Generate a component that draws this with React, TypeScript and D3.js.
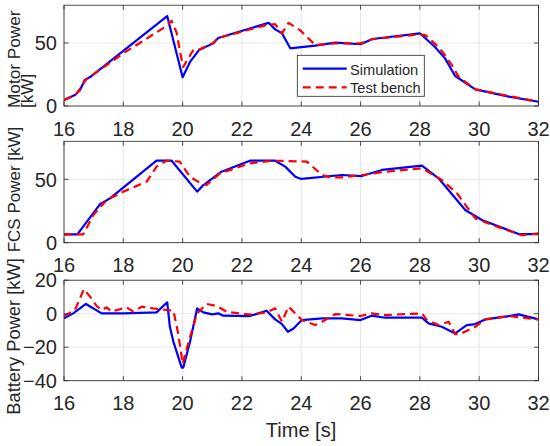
import React from "react";
import * as d3 from "d3";

// ---------- data ----------
const xTicks = [16, 18, 20, 22, 24, 26, 28, 30, 32];
const yTicksPower = [0, 50];
const yTicksBattery = [-40, -20, 0, 20];
const legendLabels = ["Simulation", "Test bench"];

const motorSimT = [16, 16.37, 16.54, 16.7, 16.88, 19.48, 20.0, 20.25, 20.55, 21.03, 21.2, 22.9, 23.12, 23.35, 23.63, 24.47, 25.15, 26.0, 26.4, 28.0, 28.5, 28.85, 29.19, 29.87, 31.0, 32.0];
const motorSimV = [4.8, 8.7, 12.7, 20.6, 23, 71.4, 22.8, 35, 44.4, 49.7, 54, 66, 60.8, 57.7, 45.8, 47.9, 50.3, 49, 53.2, 57.7, 47, 37.8, 23.8, 13.2, 7.4, 3.4];

const motorTestT = [16, 16.4, 16.74, 18.0, 19.46, 19.63, 19.8, 19.92, 20.02, 20.36, 20.58, 21.03, 21.2, 22.83, 23.12, 23.35, 23.57, 23.97, 24.47, 25.15, 26.0, 26.4, 28.0, 28.18, 28.5, 28.8, 29.08, 29.3, 29.87, 31.0, 32.0];
const motorTestV = [4.8, 9, 21, 41.8, 63.5, 67.7, 58, 42, 31, 44.4, 45, 50, 54, 64.3, 65, 57.7, 66, 60, 48.4, 49.7, 49.7, 53, 56.9, 56.3, 49.7, 41.8, 32.5, 23.3, 13.2, 7.9, 3.4];

const fcsSimT = [16, 16.45, 17.21, 17.55, 19.12, 19.63, 20.49, 20.7, 21.31, 22.27, 23.12, 23.46, 23.8, 24.0, 25.37, 26.04, 26.72, 28.07, 28.63, 29.53, 30.09, 31.33, 32];
const fcsSimV = [6.6, 6.6, 30.3, 35, 64.7, 64.7, 40.3, 45.5, 56, 64.7, 64.7, 60, 52, 50.3, 53.4, 52.6, 57.4, 60.8, 50.8, 25.8, 17.9, 6.8, 6.8];

const fcsTestT = [16, 16.65, 16.99, 17.44, 18.0, 18.79, 19.12, 19.46, 19.9, 20.25, 20.53, 20.8, 21.26, 22.27, 23.05, 24.19, 24.7, 24.97, 25.37, 26.04, 26.83, 28.07, 28.74, 29.25, 29.87, 30.43, 31.44, 32];
const fcsTestV = [6.6, 6.6, 21.8, 33.7, 40.3, 48.2, 60, 64.7, 64, 52, 48, 45.5, 54.7, 62.6, 64.7, 64, 53.4, 51.6, 51.6, 53.4, 56, 58.7, 49.5, 39, 19.2, 14, 6, 7.4];

const battSimT = [16, 16.31, 16.74, 17.27, 18.0, 19.12, 19.48, 19.57, 19.69, 19.97, 20.02, 20.25, 20.49, 20.7, 21.0, 21.2, 21.37, 22.27, 22.83, 23.12, 23.35, 23.55, 23.74, 24.02, 24.7, 25.37, 26.0, 26.37, 26.83, 28.07, 28.29, 28.74, 29.19, 29.58, 29.87, 30.2, 31.0, 31.33, 32];
const battSimV = [-2.8, 0.2, 5.8, 0.2, 0.2, 0.8, 6.8, -7.8, -16.8, -32.2, -32.2, -16.8, 3.2, 0.8, -0.4, 0.2, -1.2, -1.4, 1.8, -3.4, -6.2, -10.8, -8.8, -3.8, -2.8, -2.8, -3.8, -1.2, -2.4, -2.4, -5.8, -7.8, -11.8, -6.8, -6.2, -3.4, -1.4, -0.4, -3.4];

const battTestT = [16, 16.37, 16.67, 16.88, 17.1, 17.27, 17.44, 17.6, 18.11, 18.34, 18.62, 19.0, 19.46, 19.69, 19.85, 20.0, 20.25, 20.49, 20.81, 21.15, 21.48, 22.27, 22.83, 23.12, 23.35, 23.57, 23.8, 24.02, 24.47, 24.7, 25.15, 26.0, 26.37, 26.83, 28.07, 28.24, 28.63, 28.97, 29.19, 29.36, 29.87, 30.2, 31.0, 32];
const battTestV = [-1.4, 2.2, 14.6, 10.2, 4.6, 2.2, 3.8, 1.2, 3.8, 1.2, 4.2, 3.2, 2.2, 1.8, -11.8, -29.8, -13.8, 0.2, 5.8, 4.6, 1.2, -0.6, 0.8, 3.2, -4.8, 4.2, 0.2, -3.8, -6.8, -4.8, -0.2, -1.4, 0.2, -0.8, 0.2, -3.8, -6.8, -4.8, -12.2, -12.2, -7.8, -3.4, -1.4, -3.4];

// ---------- layout ----------
const W = 550;
const H = 446;
const FONT = "'Liberation Sans', Arial, Helvetica, sans-serif";
const AX = "#262626";
const GRID = "#dfdfdf";
const BLUE = "#0000ff";
const RED = "#ff0000";

const x = d3.scaleLinear().domain([16, 32]).range([64, 538.5]);

type PanelDef = {
  top: number;
  bottom: number;
  domain: [number, number];
  ticks: number[];
  sim: [number[], number[]];
  test: [number[], number[]];
};

const panels: PanelDef[] = [
  { top: 5.2, bottom: 106, domain: [0, 80], ticks: yTicksPower, sim: [motorSimT, motorSimV], test: [motorTestT, motorTestV] },
  { top: 141.3, bottom: 242.7, domain: [0, 80], ticks: yTicksPower, sim: [fcsSimT, fcsSimV], test: [fcsTestT, fcsTestV] },
  { top: 280.2, bottom: 380.7, domain: [-40, 20], ticks: yTicksBattery, sim: [battSimT, battSimV], test: [battTestT, battTestV] },
];

const fmt = (v: number) => (v < 0 ? "\u2212" + Math.abs(v) : String(v));

function Panel({ p, idx }: { p: PanelDef; idx: number }) {
  const y = d3.scaleLinear().domain(p.domain).range([p.bottom, p.top]);
  const line = d3
    .line<[number, number]>()
    .x((d) => x(d[0]))
    .y((d) => y(d[1]));
  const simPts = p.sim[0].map((t, i) => [t, p.sim[1][i]] as [number, number]);
  const testPts = p.test[0].map((t, i) => [t, p.test[1][i]] as [number, number]);
  const x0 = x.range()[0];
  const x1 = x.range()[1];
  const tl = 4.5;
  const clipId = `clip${idx}`;
  return (
    <g>
      <defs>
        <clipPath id={clipId}>
          <rect x={x0} y={p.top} width={x1 - x0} height={p.bottom - p.top} />
        </clipPath>
      </defs>
      <rect x={x0} y={p.top} width={x1 - x0} height={p.bottom - p.top} fill="#fff" />
      {/* grid */}
      {xTicks.map((t) => (
        <line key={"gx" + t} x1={x(t)} x2={x(t)} y1={p.top} y2={p.bottom} stroke={GRID} strokeWidth={0.8} />
      ))}
      {p.ticks.map((t) => (
        <line key={"gy" + t} x1={x0} x2={x1} y1={y(t)} y2={y(t)} stroke={GRID} strokeWidth={0.8} />
      ))}
      {/* data */}
      <g clipPath={`url(#${clipId})`}>
        <path d={line(simPts) || ""} fill="none" stroke={BLUE} strokeWidth={2.2} strokeLinejoin="round" />
        <path d={line(testPts) || ""} fill="none" stroke={RED} strokeWidth={2.2} strokeDasharray="8,5" strokeLinejoin="round" />
      </g>
      {/* ticks */}
      {xTicks.map((t) => (
        <g key={"tx" + t}>
          <line x1={x(t)} x2={x(t)} y1={p.bottom} y2={p.bottom - tl} stroke={AX} strokeWidth={0.8} />
          <line x1={x(t)} x2={x(t)} y1={p.top} y2={p.top + tl} stroke={AX} strokeWidth={0.8} />
          <text x={x(t)} y={p.bottom + 29.5} textAnchor="middle" fontSize={20} fill={AX} fontFamily={FONT}>
            {fmt(t)}
          </text>
        </g>
      ))}
      {p.ticks.map((t) => (
        <g key={"ty" + t}>
          <line x1={x0} x2={x0 + tl} y1={y(t)} y2={y(t)} stroke={AX} strokeWidth={0.8} />
          <line x1={x1} x2={x1 - tl} y1={y(t)} y2={y(t)} stroke={AX} strokeWidth={0.8} />
          <text x={57} y={y(t)} dy="0.36em" textAnchor="end" fontSize={20} fill={AX} fontFamily={FONT}>
            {fmt(t)}
          </text>
        </g>
      ))}
      <rect x={x0} y={p.top} width={x1 - x0} height={p.bottom - p.top} fill="none" stroke={AX} strokeWidth={0.8} />
    </g>
  );
}

export default function App() {
  return (
    <svg
      width={W}
      height={H}
      viewBox={`0 0 ${W} ${H}`}
      style={{ position: "absolute", left: 0, top: 0, background: "#fff" }}
    >
      <rect width={W} height={H} fill="#fff" />
      {panels.map((p, i) => (
        <Panel key={i} p={p} idx={i} />
      ))}
      {/* y labels */}
      <text transform="translate(20,108) rotate(-90)" fontSize={17.2} fill={AX} fontFamily={FONT}>
        Motor Power
      </text>
      <text transform="translate(32.5,108) rotate(-90)" fontSize={17.2} fill={AX} fontFamily={FONT}>
        [kW]
      </text>
      <text transform="translate(20,189.5) rotate(-90)" textAnchor="middle" fontSize={17} fill={AX} fontFamily={FONT}>
        FCS Power [kW]
      </text>
      <text transform="translate(20,336.5) rotate(-90)" textAnchor="middle" fontSize={18.3} fill={AX} fontFamily={FONT}>
        Battery Power [kW]
      </text>
      {/* x label */}
      <text x={301} y={437} textAnchor="middle" fontSize={20} fill={AX} fontFamily={FONT}>
        Time [s]
      </text>
      {/* legend */}
      <g>
        <rect x={297.3} y={55.3} width={127} height={41} fill="#fff" stroke={AX} strokeWidth={0.8} />
        <line x1={302.7} x2={346.7} y1={68.7} y2={68.7} stroke={BLUE} strokeWidth={2.2} />
        <line x1={302.7} x2={346.7} y1={87.3} y2={87.3} stroke={RED} strokeWidth={2.2} strokeDasharray="8,5" />
        <text x={350} y={74.5} fontSize={14.6} fill={AX} fontFamily={FONT}>
          {legendLabels[0]}
        </text>
        <text x={350} y={93} fontSize={14.6} fill={AX} fontFamily={FONT}>
          {legendLabels[1]}
        </text>
      </g>
    </svg>
  );
}
